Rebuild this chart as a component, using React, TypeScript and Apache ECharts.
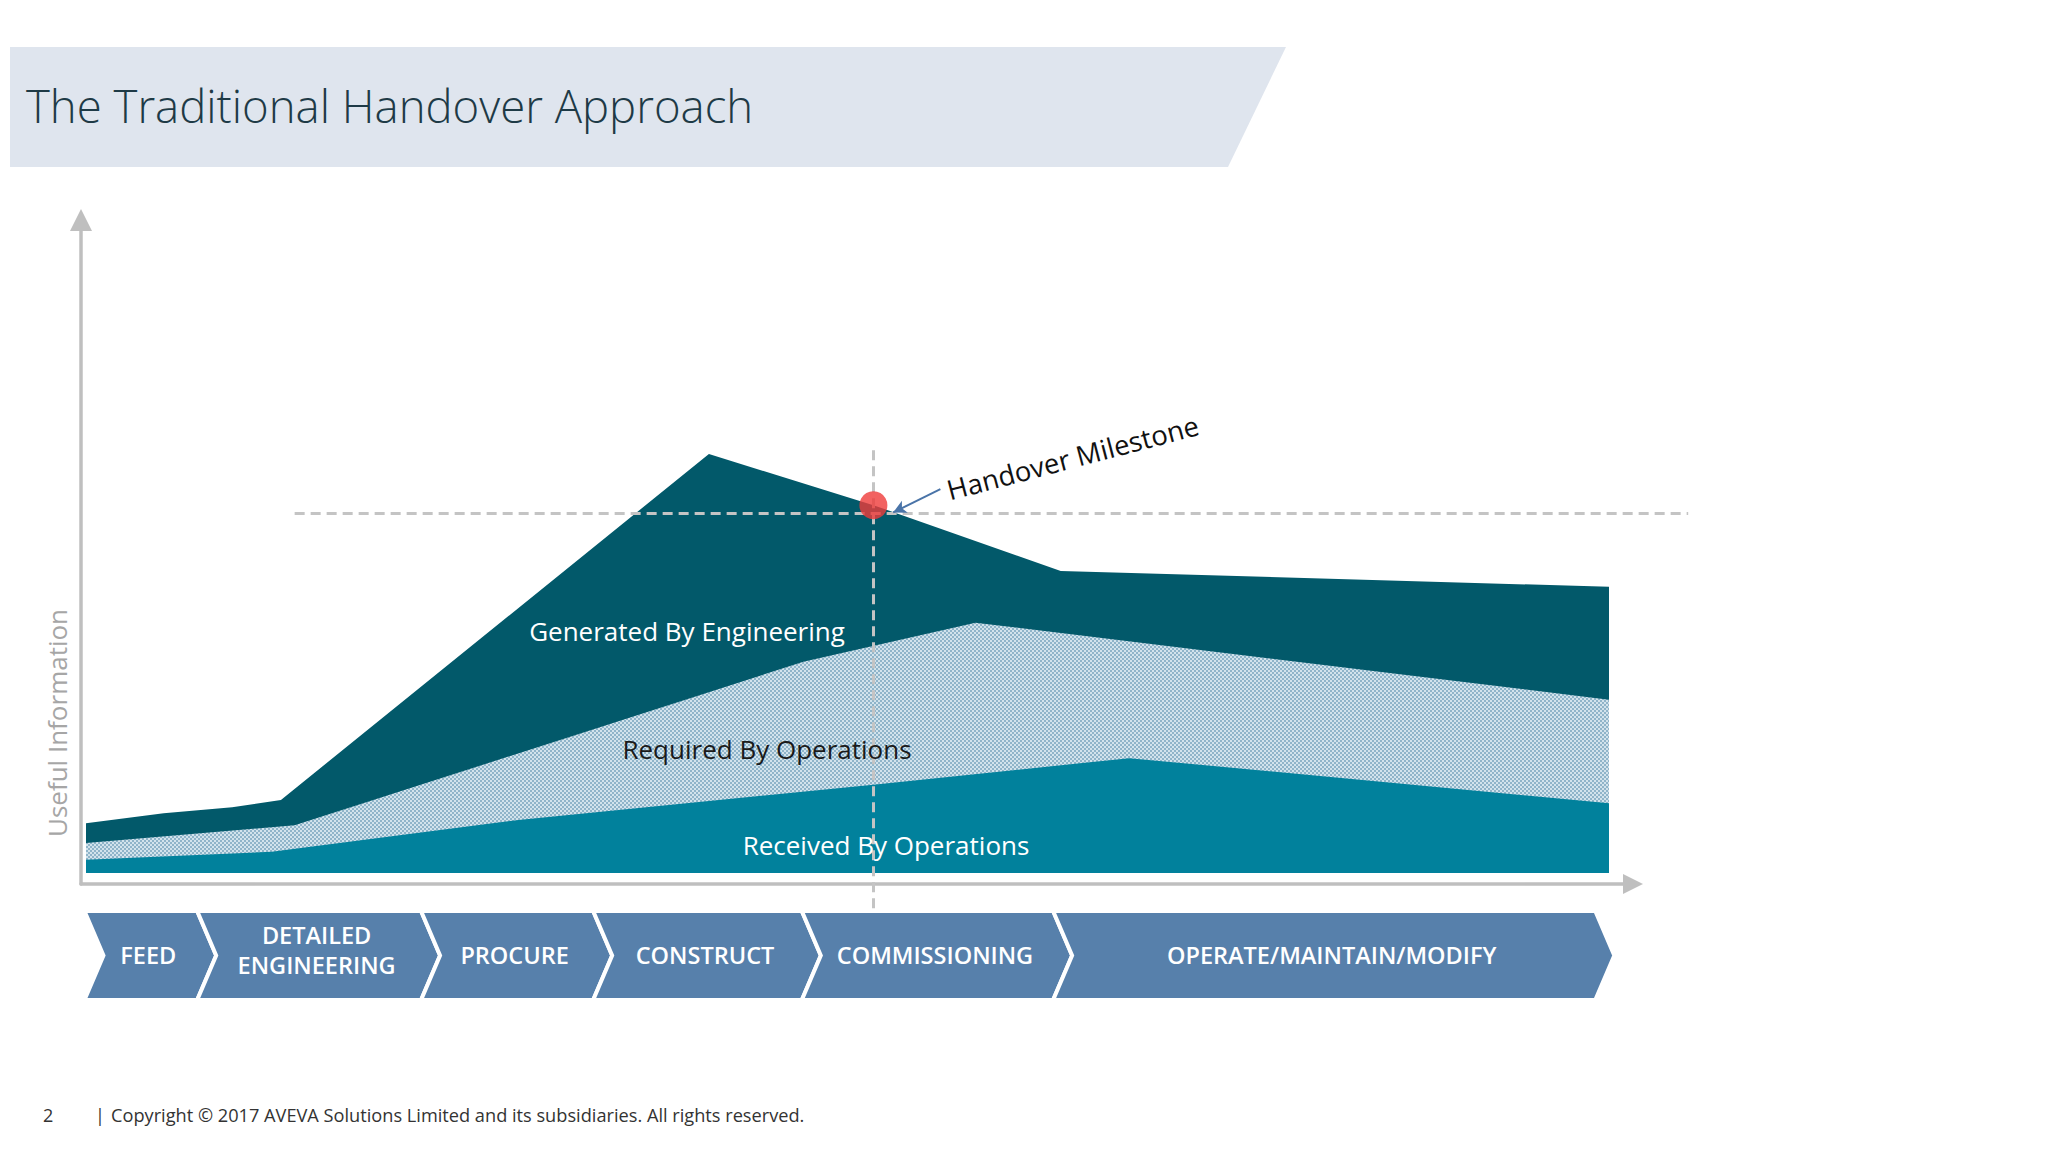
import React, { useEffect, useRef } from 'react';
import * as echarts from 'echarts';

// ---------- data (x: project timeline 0..100, y: useful information 0..100) ----------
const generatedX = [0, 5.1, 9.6, 12.8, 40.9, 51.7, 64.0, 100];
const generatedY = [7.5, 9.0, 9.9, 11.0, 63.1, 55.4, 45.5, 43.1];

const requiredX = [0, 13.7, 47.1, 58.4, 100];
const requiredY = [4.5, 7.2, 31.8, 37.7, 26.1];

const receivedX = [0, 12.2, 28.4, 51.7, 68.5, 100];
const receivedY = [2.0, 3.2, 8.0, 13.3, 17.3, 10.5];

const milestone = [51.7, 55.4];
const milestoneLevel = 54.2;
const crossX = [13.7, 105.2];
const crossY = [-5.3, 64.2];
const pointerFrom = [56.1, 57.8];
const pointerTo = [53.0, 54.3];

const phaseNames = ['FEED', 'DETAILED\nENGINEERING', 'PROCURE', 'CONSTRUCT', 'COMMISSIONING', 'OPERATE/MAINTAIN/MODIFY'];
const phaseStart = [-0.1, 7.3, 22.0, 33.3, 47.0, 63.5];
const phaseEnd = [7.3, 22.0, 33.3, 47.0, 63.5, 99.1];

const zip = (xs: number[], ys: number[]) => xs.map((x, i) => [x, ys[i]]);

function makePattern(): HTMLCanvasElement {
  const c = document.createElement('canvas');
  c.width = 4;
  c.height = 4;
  const ctx = c.getContext('2d')!;
  ctx.fillStyle = '#d2e3ec';
  ctx.fillRect(0, 0, 4, 4);
  ctx.fillStyle = '#8fb4c9';
  ctx.fillRect(0, 0, 2, 2);
  ctx.fillRect(2, 2, 2, 2);
  return c;
}

const FONT = '"Open Sans", "Noto Sans", sans-serif';

export default function App() {
  const ref = useRef<HTMLDivElement>(null);

  useEffect(() => {
    if (!ref.current) return;
    const chart = echarts.init(ref.current, undefined, { renderer: 'svg' });
    const pattern = makePattern();

    const hiddenAxis = (gridIndex: number, min: number, max: number) => ({
      gridIndex,
      type: 'value',
      min,
      max,
      show: false,
    });

    const option: any = {
      animation: false,
      backgroundColor: '#ffffff',
      grid: [
        { left: 81, right: 415, top: 220, bottom: 268, outerBoundsMode: 'none' },
        { left: 9.85, right: 286.7, top: 209, bottom: 232.52, outerBoundsMode: 'none' },
        { left: 9.85, right: 286.7, top: 911, height: 89, outerBoundsMode: 'none' },
      ],
      xAxis: [
        {
          gridIndex: 0,
          type: 'value',
          min: 0,
          max: 1,
          axisLine: {
            show: true,
            onZero: false,
            symbol: ['none', 'triangle'],
            symbolSize: [20, 20],
            lineStyle: { color: '#bfbfbf', width: 3.5 },
          },
          axisTick: { show: false },
          axisLabel: { show: false },
          splitLine: { show: false },
        },
        hiddenAxis(1, -5, 110),
        hiddenAxis(2, -5, 110),
      ],
      yAxis: [
        {
          gridIndex: 0,
          type: 'value',
          min: 0,
          max: 1,
          axisLine: {
            show: true,
            onZero: false,
            symbol: ['none', 'triangle'],
            symbolSize: [22, 22],
            lineStyle: { color: '#bfbfbf', width: 3.5 },
          },
          axisTick: { show: false },
          axisLabel: { show: false },
          splitLine: { show: false },
        },
        hiddenAxis(1, -7, 100),
        hiddenAxis(2, 0, 1),
      ],
      series: [
        {
          name: 'Generated By Engineering',
          type: 'line',
          xAxisIndex: 1,
          yAxisIndex: 1,
          data: zip(generatedX, generatedY),
          symbol: 'none',
          lineStyle: { width: 0 },
          areaStyle: { color: '#02596a', opacity: 1 },
          z: 2,
          markLine: {
            silent: true,
            symbol: ['none', 'none'],
            label: { show: false },
            z: 5,
            lineStyle: { color: '#c4c4c4', width: 3, type: [10, 6] },
            data: [
              [{ coord: [crossX[0], milestoneLevel] }, { coord: [crossX[1], milestoneLevel] }],
              [{ coord: [milestone[0], crossY[0]] }, { coord: [milestone[0], crossY[1]] }],
            ],
          },
        },
        {
          name: 'Required By Operations',
          type: 'line',
          xAxisIndex: 1,
          yAxisIndex: 1,
          data: zip(requiredX, requiredY),
          symbol: 'none',
          lineStyle: { width: 0 },
          areaStyle: {
            color: { image: pattern, repeat: 'repeat', imageWidth: 4, imageHeight: 4 },
            opacity: 1,
          },
          z: 3,
        },
        {
          name: 'Received By Operations',
          type: 'line',
          xAxisIndex: 1,
          yAxisIndex: 1,
          data: zip(receivedX, receivedY),
          symbol: 'none',
          lineStyle: { width: 0 },
          areaStyle: { color: '#01819c', opacity: 1 },
          z: 4,
          markLine: {
            silent: true,
            symbol: ['none', 'arrow'],
            symbolSize: [10, 13],
            label: { show: false },
            z: 6,
            lineStyle: { color: '#4a74a8', width: 2, type: 'solid' },
            data: [[{ coord: pointerFrom }, { coord: pointerTo }]],
          },
        },
        {
          name: 'Handover Milestone',
          type: 'scatter',
          xAxisIndex: 1,
          yAxisIndex: 1,
          data: [milestone],
          symbol: 'circle',
          symbolSize: 28,
          itemStyle: { color: '#ef3b39' },
          z: 20,
        },
        {
          name: 'Phases',
          type: 'custom',
          xAxisIndex: 2,
          yAxisIndex: 2,
          data: phaseStart.map((s, i) => [s, phaseEnd[i]]),
          renderItem: (params: any, api: any) => {
            const s = api.value(0);
            const e = api.value(1);
            const tl = api.coord([s, 1]);
            const br = api.coord([e, 0]);
            const d = 19;
            const L = tl[0];
            const R = br[0];
            const top = tl[1];
            const bot = br[1];
            const mid = (top + bot) / 2;
            const name = phaseNames[params.dataIndex];
            const multi = name.indexOf('\n') >= 0;
            return {
              type: 'group',
              children: [
                {
                  type: 'polygon',
                  shape: {
                    points: [
                      [L, top],
                      [R, top],
                      [R + d, mid],
                      [R, bot],
                      [L, bot],
                      [L + d, mid],
                    ],
                  },
                  style: { fill: '#5780ab', stroke: '#ffffff', lineWidth: 4 },
                },
                {
                  type: 'text',
                  x: (L + R + d) / 2 - 2,
                  y: multi ? mid - 6 : mid - 1,
                  style: {
                    text: name,
                    fill: '#ffffff',
                    font: `600 23.5px ${FONT}`,
                    align: 'center',
                    verticalAlign: 'middle',
                    textAlign: 'center',
                    textVerticalAlign: 'middle',
                    lineHeight: 30,
                  },
                },
              ],
            };
          },
          z: 5,
        },
      ],
      graphic: [
        {
          type: 'polygon',
          shape: { points: [[10, 47], [1286, 47], [1228, 167], [10, 167]] },
          style: { fill: '#dfe5ee' },
          z: 0,
        },
        {
          type: 'text',
          x: 26,
          y: 105,
          style: {
            text: 'The Traditional Handover Approach',
            font: `300 45.5px ${FONT}`,
            fill: '#1e3a46',
            align: 'left',
            verticalAlign: 'middle',
            textAlign: 'left',
            textVerticalAlign: 'middle',
          },
          z: 1,
        },
        {
          type: 'text',
          x: 57,
          y: 723,
          rotation: Math.PI / 2,
          style: {
            text: 'Useful Information',
            font: `26px ${FONT}`,
            fill: '#a6a6a6',
            align: 'center',
            verticalAlign: 'middle',
            textAlign: 'center',
            textVerticalAlign: 'middle',
          },
        },
        {
          type: 'text',
          x: 687,
          y: 631,
          style: {
            text: 'Generated By Engineering',
            font: `26px ${FONT}`,
            fill: '#ffffff',
            align: 'center',
            verticalAlign: 'middle',
            textAlign: 'center',
            textVerticalAlign: 'middle',
          },
          z: 30,
        },
        {
          type: 'text',
          x: 767,
          y: 749,
          style: {
            text: 'Required By Operations',
            font: `26px ${FONT}`,
            fill: '#1a1a1a',
            align: 'center',
            verticalAlign: 'middle',
            textAlign: 'center',
            textVerticalAlign: 'middle',
          },
          z: 30,
        },
        {
          type: 'text',
          x: 886,
          y: 845,
          style: {
            text: 'Received By Operations',
            font: `26px ${FONT}`,
            fill: '#ffffff',
            align: 'center',
            verticalAlign: 'middle',
            textAlign: 'center',
            textVerticalAlign: 'middle',
          },
          z: 30,
        },
        {
          type: 'text',
          x: 951,
          y: 504,
          rotation: (14.8 * Math.PI) / 180,
          style: {
            text: 'Handover Milestone',
            font: `27.5px ${FONT}`,
            fill: '#111111',
            align: 'left',
            verticalAlign: 'bottom',
            textAlign: 'left',
            textVerticalAlign: 'bottom',
          },
          z: 30,
        },
        {
          type: 'text',
          x: 43,
          y: 1115,
          style: {
            text: '2',
            font: `18px ${FONT}`,
            fill: '#333333',
            align: 'left',
            verticalAlign: 'middle',
            textAlign: 'left',
            textVerticalAlign: 'middle',
          },
        },
        {
          type: 'text',
          x: 95,
          y: 1115,
          style: {
            text: '|',
            font: `18px ${FONT}`,
            fill: '#333333',
            align: 'left',
            verticalAlign: 'middle',
            textAlign: 'left',
            textVerticalAlign: 'middle',
          },
        },
        {
          type: 'text',
          x: 111,
          y: 1115,
          style: {
            text: 'Copyright © 2017 AVEVA Solutions Limited and its subsidiaries. All rights reserved.',
            font: `18.2px ${FONT}`,
            fill: '#333333',
            align: 'left',
            verticalAlign: 'middle',
            textAlign: 'left',
            textVerticalAlign: 'middle',
          },
        },
      ],
    };

    chart.setOption(option);
    return () => {
      chart.dispose();
    };
  }, []);

  return (
    <div
      ref={ref}
      style={{ position: 'absolute', left: 0, top: 0, width: 2048, height: 1152, background: '#ffffff' }}
    />
  );
}
